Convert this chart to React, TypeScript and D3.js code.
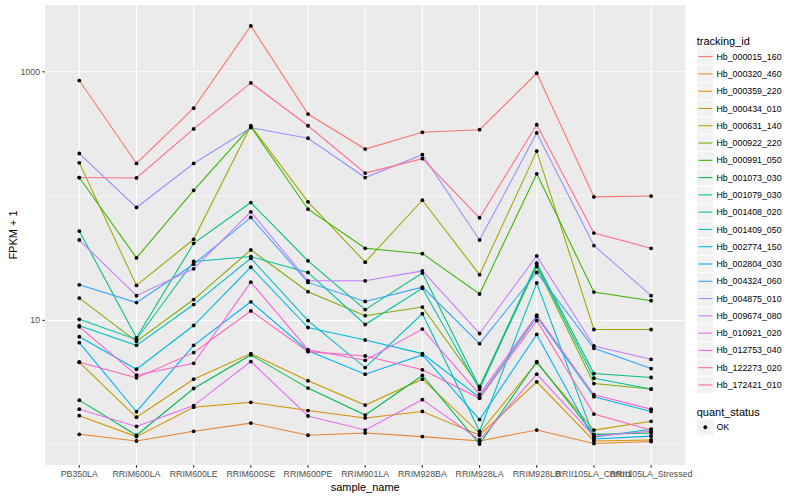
import * as d3 from "d3";

// FPKM + 1 per sample
const samples = [
  "PB350LA",
  "RRIM600LA",
  "RRIM600LE",
  "RRIM600SE",
  "RRIM600PE",
  "RRIM901LA",
  "RRIM928BA",
  "RRIM928LA",
  "RRIM928LB",
  "RRII105LA_Control",
  "RRII105LA_Stressed",
];

const trackingIds = [
  "Hb_000015_160",
  "Hb_000320_460",
  "Hb_000359_220",
  "Hb_000434_010",
  "Hb_000631_140",
  "Hb_000922_220",
  "Hb_000991_050",
  "Hb_001073_030",
  "Hb_001079_030",
  "Hb_001408_020",
  "Hb_001409_050",
  "Hb_002774_150",
  "Hb_002804_030",
  "Hb_004324_060",
  "Hb_004875_010",
  "Hb_009674_080",
  "Hb_010921_020",
  "Hb_012753_040",
  "Hb_122273_020",
  "Hb_172421_010",
];

// ggplot default hue palette, 20 levels
const palette = [
  "#F8766D", "#EA8331", "#D89000", "#C09B00", "#A3A500",
  "#7CAE00", "#39B600", "#00BB4E", "#00BF7D", "#00C1A3",
  "#00BFC4", "#00BAE0", "#00B0F6", "#35A2FF", "#9590FF",
  "#C77CFF", "#E76BF3", "#FA62DB", "#FF62BC", "#FF6C91",
];

const hb000015 = [850, 183, 510, 2340, 457, 239, 326, 342, 973, 98.5, 100];
const hb000320 = [1.21, 1.07, 1.28, 1.49, 1.19, 1.24, 1.16, 1.07, 1.31, 1.02, 1.06];
const hb000359 = [1.71, 1.16, 2.0, 2.19, 1.88, 1.64, 1.85, 1.19, 3.2, 1.07, 1.09];
const hb000434 = [4.6, 1.66, 3.36, 5.4, 3.26, 2.08, 3.36, 1.24, 4.57, 1.31, 1.54];
const hb000631 = [185, 19.1, 44.9, 368, 89.9, 29.4, 92.6, 23.3, 230, 8.44, 8.44];
const hb000922 = [15.1, 6.77, 14.7, 36.9, 17.0, 10.9, 12.8, 2.94, 27.1, 3.1, 2.8];
const hb000991 = [141, 31.8, 111, 362, 78.4, 38.0, 34.4, 16.3, 151, 16.9, 14.4];
const hb001073 = [2.28, 1.19, 2.83, 5.27, 2.85, 1.73, 3.6, 1.01, 4.66, 1.21, 1.24];
const hb001079 = [52.3, 7.24, 41.7, 88.7, 30.1, 12.2, 24.0, 2.88, 28.8, 3.73, 3.47];
const hb001408 = [10.2, 7.02, 29.8, 32.6, 24.3, 9.26, 18.1, 2.78, 28.0, 3.42, 2.8];
const hb001409 = [9.04, 6.29, 13.4, 31.6, 9.96, 4.17, 11.3, 1.28, 20.0, 1.15, 1.33];
const hb002774 = [7.38, 4.04, 9.09, 26.8, 8.76, 6.95, 5.4, 2.4, 10.7, 2.43, 1.85];
const hb002804 = [6.61, 1.84, 6.29, 14.1, 5.7, 3.69, 5.27, 1.59, 7.7, 1.11, 1.17];
const hb004324 = [19.3, 13.9, 28.3, 67.3, 20.2, 14.2, 18.5, 6.49, 24.3, 5.95, 4.09];
const hb004875 = [220, 80.9, 183, 355, 292, 141, 215, 44.3, 322, 40.0, 15.8];
const hb009674 = [44.3, 15.8, 26.0, 74.7, 20.8, 20.8, 25.0, 7.84, 33.0, 6.22, 4.86];
const hb010921 = [1.93, 1.4, 2.06, 4.66, 1.7, 1.31, 2.3, 1.09, 3.69, 1.17, 1.28];
const hb012753 = [8.87, 3.62, 4.51, 20.3, 5.81, 4.77, 8.5, 2.54, 11.0, 2.52, 1.93];
const hb122273 = [4.6, 3.45, 5.5, 11.9, 5.6, 5.17, 4.0, 2.36, 9.96, 1.76, 1.31];
const hb172421 = [141, 140, 347, 814, 368, 153, 200, 66.9, 375, 50.4, 38.0];

const series = [
  hb000015, hb000320, hb000359, hb000434, hb000631,
  hb000922, hb000991, hb001073, hb001079, hb001408,
  hb001409, hb002774, hb002804, hb004324, hb004875,
  hb009674, hb010921, hb012753, hb122273, hb172421,
];

const majorTicks = [10, 1000];
const minorTicks = [1, 100];

const W = 800;
const H = 500;
const panel = { left: 45, right: 685.4, top: 5, bottom: 465 };
const font = "'Liberation Sans', Arial, Helvetica, sans-serif";

export default function App() {
  const all = series.flat();
  const lmin = Math.log10(d3.min(all) ?? 1);
  const lmax = Math.log10(d3.max(all) ?? 10);
  const pad = (lmax - lmin) * 0.05;

  const x = d3
    .scalePoint<string>()
    .domain(samples)
    .range([panel.left, panel.right])
    .padding(0.6);

  const y = d3
    .scaleLog()
    .domain([10 ** (lmin - pad), 10 ** (lmax + pad)])
    .range([panel.bottom, panel.top]);

  const line = d3
    .line<number>()
    .x((_, i) => x(samples[i]) ?? 0)
    .y((d) => y(d));

  const inDomain = (v: number) => y(v) >= panel.top && y(v) <= panel.bottom;

  // legend geometry
  const legX = 696.7;
  const keySize = 17.28;
  const keyTop = 48;
  const qTitleY = 416;
  const qKeyTop = 418.6;

  return (
    <svg
      width={W}
      height={H}
      style={{ position: "absolute", left: 0, top: 0, fontFamily: font }}
    >
      <rect width={W} height={H} fill="#ffffff" />

      {/* panel */}
      <rect
        x={panel.left}
        y={panel.top}
        width={panel.right - panel.left}
        height={panel.bottom - panel.top}
        fill="#EBEBEB"
      />
      {minorTicks.filter(inDomain).map((t) => (
        <line
          key={`mn${t}`}
          x1={panel.left}
          x2={panel.right}
          y1={y(t)}
          y2={y(t)}
          stroke="#ffffff"
          strokeWidth={0.55}
        />
      ))}
      {majorTicks.filter(inDomain).map((t) => (
        <line
          key={`mj${t}`}
          x1={panel.left}
          x2={panel.right}
          y1={y(t)}
          y2={y(t)}
          stroke="#ffffff"
          strokeWidth={1.1}
        />
      ))}
      {samples.map((s) => (
        <line
          key={`v${s}`}
          x1={x(s)}
          x2={x(s)}
          y1={panel.top}
          y2={panel.bottom}
          stroke="#ffffff"
          strokeWidth={1.1}
        />
      ))}

      {/* series lines */}
      {series.map((vals, i) => (
        <path
          key={trackingIds[i]}
          d={line(vals) ?? ""}
          fill="none"
          stroke={palette[i]}
          strokeWidth={1.07}
        />
      ))}

      {/* points */}
      {series.map((vals, i) =>
        vals.map((v, j) => (
          <circle
            key={`${trackingIds[i]}-${j}`}
            cx={x(samples[j])}
            cy={y(v)}
            r={1.9}
            fill="#000000"
          />
        )),
      )}

      {/* y axis */}
      {majorTicks.filter(inDomain).map((t) => (
        <g key={`yt${t}`}>
          <line
            x1={panel.left - 2.75}
            x2={panel.left}
            y1={y(t)}
            y2={y(t)}
            stroke="#333333"
            strokeWidth={1.07}
          />
          <text
            x={panel.left - 4.95}
            y={y(t)}
            dy="0.33em"
            textAnchor="end"
            fontSize={8.8}
            fill="#4D4D4D"
          >
            {t}
          </text>
        </g>
      ))}
      <text
        transform={`translate(16.5,${(panel.top + panel.bottom) / 2}) rotate(-90)`}
        textAnchor="middle"
        fontSize={11}
        fill="#000000"
      >
        FPKM + 1
      </text>

      {/* x axis */}
      {samples.map((s) => (
        <g key={`xt${s}`}>
          <line
            x1={x(s)}
            x2={x(s)}
            y1={panel.bottom}
            y2={panel.bottom + 2.75}
            stroke="#333333"
            strokeWidth={1.07}
          />
          <text
            x={x(s)}
            y={panel.bottom + 12.2}
            textAnchor="middle"
            fontSize={8.8}
            fill="#4D4D4D"
          >
            {s}
          </text>
        </g>
      ))}
      <text
        x={(panel.left + panel.right) / 2}
        y={490.5}
        textAnchor="middle"
        fontSize={11}
        fill="#000000"
      >
        sample_name
      </text>

      {/* legend: tracking_id */}
      <text x={legX} y={44.5} fontSize={11} fill="#000000">
        tracking_id
      </text>
      {trackingIds.map((id, i) => {
        const top = keyTop + i * keySize;
        return (
          <g key={`lg${id}`}>
            <rect
              x={legX}
              y={top}
              width={keySize}
              height={keySize}
              fill="#F2F2F2"
              stroke="#ffffff"
              strokeWidth={1}
            />
            <line
              x1={legX + 1.7}
              x2={legX + keySize - 1.7}
              y1={top + keySize / 2}
              y2={top + keySize / 2}
              stroke={palette[i]}
              strokeWidth={1.07}
            />
            <text
              x={legX + keySize + 2.5}
              y={top + keySize / 2}
              dy="0.35em"
              fontSize={8.8}
              fill="#000000"
            >
              {id}
            </text>
          </g>
        );
      })}

      {/* legend: quant_status */}
      <text x={legX} y={qTitleY} fontSize={11} fill="#000000">
        quant_status
      </text>
      <rect
        x={legX}
        y={qKeyTop}
        width={keySize}
        height={keySize}
        fill="#F2F2F2"
        stroke="#ffffff"
        strokeWidth={1}
      />
      <circle
        cx={legX + keySize / 2}
        cy={qKeyTop + keySize / 2}
        r={1.9}
        fill="#000000"
      />
      <text
        x={legX + keySize + 2.5}
        y={qKeyTop + keySize / 2}
        dy="0.35em"
        fontSize={8.8}
        fill="#000000"
      >
        OK
      </text>
    </svg>
  );
}
